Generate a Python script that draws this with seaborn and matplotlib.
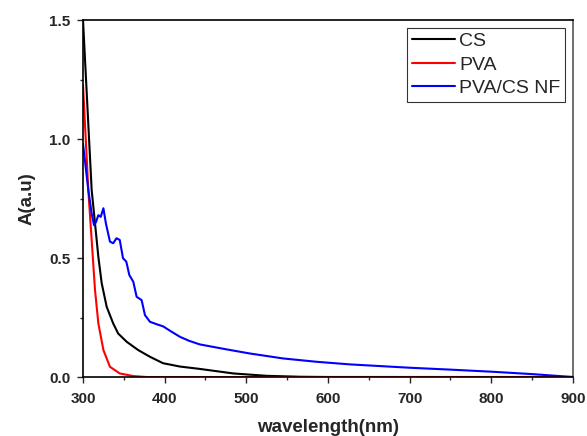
import numpy as np
import pandas as pd
import matplotlib
matplotlib.use("Agg")
import matplotlib.pyplot as plt
import seaborn as sns
from matplotlib.ticker import MultipleLocator

# --- data (wavelength in nm, absorbance) ---
cs_wl = [300, 310.6, 314.7, 318.8, 322.9, 329, 337, 343, 353.5, 367.7, 382, 398, 418.7,
         443, 484, 525, 566, 600, 700, 800, 900]
cs_a = [1.50, 0.786, 0.646, 0.505, 0.394, 0.295, 0.225, 0.183, 0.148, 0.113, 0.085, 0.058, 0.044,
        0.034, 0.015, 0.005, 0.001, 0.0, 0.0, 0.0, 0.0]

pva_wl = [300, 306.5, 310.6, 314.7, 318.8, 325, 333, 345, 361.6, 378, 450, 600, 800, 900]
pva_a = [1.227, 0.786, 0.576, 0.366, 0.225, 0.113, 0.043, 0.015, 0.004, 0.0, 0.0, 0.0, 0.0, 0.0]

nf_wl = [300, 306.5, 310.6, 313.5, 316, 318.8, 321.7, 325, 328, 333, 337, 341, 345, 349, 353,
         356.7, 361.6, 365.7, 371.8, 375.9, 382, 390, 398, 408.6, 418.7, 430, 443, 476, 504, 545,
         586, 627, 700, 750, 802, 851, 900]
nf_a = [0.98, 0.786, 0.687, 0.638, 0.652, 0.68, 0.673, 0.709, 0.646, 0.569, 0.562, 0.583, 0.576,
        0.499, 0.485, 0.429, 0.40, 0.337, 0.323, 0.26, 0.232, 0.222, 0.213, 0.19, 0.169, 0.152, 0.137,
        0.116, 0.099, 0.078, 0.064, 0.053, 0.039, 0.031, 0.022, 0.012, 0.0]

labels = ["CS", "PVA", "PVA/CS NF"]
colors = ["black", "red", "blue"]

df = pd.concat([
    pd.DataFrame({"wavelength": cs_wl, "A": cs_a, "sample": "CS"}),
    pd.DataFrame({"wavelength": pva_wl, "A": pva_a, "sample": "PVA"}),
    pd.DataFrame({"wavelength": nf_wl, "A": nf_a, "sample": "PVA/CS NF"}),
])

sns.set_style("white")
plt.rcParams['font.family'] = ['Liberation Sans', 'DejaVu Sans']

fig = plt.figure(figsize=(5.87, 4.36), dpi=100)
ax = fig.add_axes([0.1414, 0.1353, 0.8346, 0.8188])

sns.lineplot(data=df, x="wavelength", y="A", hue="sample", hue_order=labels,
             palette=dict(zip(labels, colors)), linewidth=1.5, sort=False,
             estimator=None, ax=ax)

ax.set_xlim(300, 900)
ax.set_ylim(0, 1.5)
ax.xaxis.set_major_locator(MultipleLocator(100))
ax.xaxis.set_minor_locator(MultipleLocator(50))
ax.yaxis.set_major_locator(MultipleLocator(0.5))
ax.yaxis.set_minor_locator(MultipleLocator(0.25))
ax.tick_params(which="both", direction="out", bottom=True, left=True, top=False, right=False)
ax.tick_params(which="major", length=4, width=1, labelsize=11)
ax.tick_params(axis="x", which="major", pad=7)
ax.tick_params(axis="y", which="major", pad=5)
ax.tick_params(which="minor", length=2.5, width=1)
for lab in ax.get_xticklabels() + ax.get_yticklabels():
    lab.set_fontweight("bold")

for side in ["left", "bottom", "top"]:
    ax.spines[side].set_color("black")
    ax.spines[side].set_linewidth(1.2)
ax.spines["right"].set_color("#555555")
ax.spines["right"].set_linewidth(1.2)

ax.set_xlabel("wavelength(nm)", fontsize=13.5, fontweight="bold", labelpad=9)
ax.set_ylabel("A(a.u)", fontsize=13.5, fontweight="bold", labelpad=10)

leg = ax.legend(loc="upper right", fontsize=14, frameon=True, fancybox=False,
                edgecolor="black", borderpad=0.25, labelspacing=0.3, handlelength=2.2,
                handletextpad=0.2, borderaxespad=0.4)
leg.get_frame().set_linewidth(0.8)
for line in leg.get_lines():
    line.set_linewidth(1.5)

fig.savefig("out.png", dpi=100)
